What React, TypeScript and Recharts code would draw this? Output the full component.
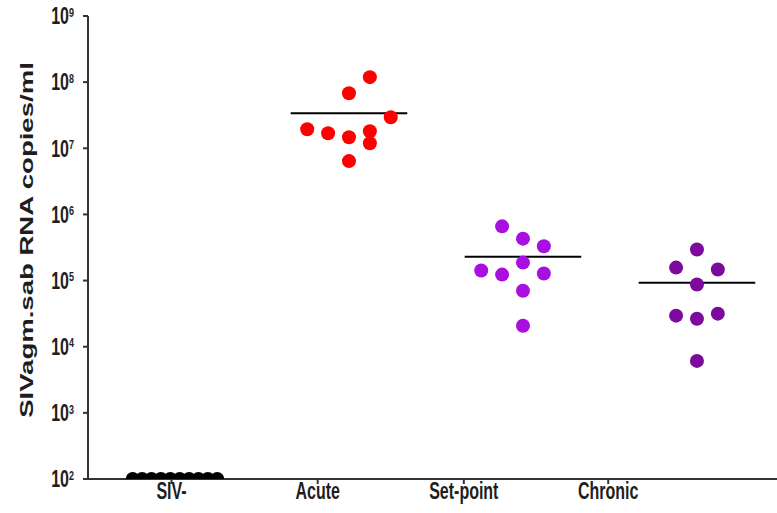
import React from 'react';
import { ScatterChart, Scatter, XAxis, YAxis, ReferenceLine } from 'recharts';

// groups on the x axis
const categories = ['SIV-', 'Acute', 'Set-point', 'Chronic'];
// where the category labels sit (in column units, labels are slightly offset from the dots)
const labelTicks = [-0.02, 0.82, 1.66, 2.49];
const yTicks = [1e2, 1e3, 1e4, 1e5, 1e6, 1e7, 1e8, 1e9];

// viral loads (copies/ml), with the column-scatter slot of each point
const sivNegValues = [100, 100, 100, 100, 100, 100, 100, 100, 100, 100];
const sivNegSlots = [-4.5, -3.5, -2.5, -1.5, -0.5, 0.5, 1.5, 2.5, 3.5, 4.5];

const acuteValues = [1.19e8, 6.8e7, 2.95e7, 1.94e7, 1.69e7, 1.47e7, 1.81e7, 1.19e7, 6.4e6];
const acuteSlots = [1, 0, 2, -2, -1, 0, 1, 1, 0];

const setPointValues = [6.6e5, 4.3e5, 3.3e5, 1.42e5, 1.23e5, 1.87e5, 1.28e5, 7.0e4, 2.08e4];
const setPointSlots = [-1, 0, 1, -2, -1, 0, 1, 0, 0];

const chronicValues = [2.95e5, 1.57e5, 1.47e5, 8.7e4, 2.95e4, 2.65e4, 3.16e4, 6.1e3];
const chronicSlots = [0, -1, 1, 0, -1, 0, 1, 0];

// horizontal line per group
const medians = [null, 3.4e7, 2.3e5, 9.3e4];

const COLORS = ['#000000', '#ff0000', '#a80fe0', '#7c0a9c'];

const SLOT = 0.12; // spread between neighbouring dots
const SLOT_TIGHT = 0.054; // SIV- dots overlap more
const HALF_LINE = 0.335;
const STRETCH = 1.45; // the original text is vertically stretched
const FONT = '"Liberation Sans", Arial, sans-serif';
const INK = '#1e1e1e';

const toPoints = (col: number, values: number[], slots: number[], spread: number) =>
  values.map((v, i) => ({ x: col + slots[i] * spread, y: v }));

const groups = [
  toPoints(0, sivNegValues, sivNegSlots, SLOT_TIGHT),
  toPoints(1, acuteValues, acuteSlots, SLOT),
  toPoints(2, setPointValues, setPointSlots, SLOT),
  toPoints(3, chronicValues, chronicSlots, SLOT),
];

const Dot = (color: string) => (props: any) => (
  <circle cx={props.cx} cy={props.cy} r={7} fill={color} />
);

const YTick = (props: any) => {
  const { x, y, payload } = props;
  const exp = Math.round(Math.log10(payload.value));
  return (
    <g transform={`translate(${x},${y}) scale(1,${STRETCH})`}>
      <text x={0} y={5.7} textAnchor="end" fontFamily={FONT} fontWeight="bold" fontSize={16} fill={INK}>
        <tspan>10</tspan>
        <tspan dy={-5.2} fontSize={9}>{exp}</tspan>
      </text>
    </g>
  );
};

const XTick = (props: any) => {
  const { x, y, payload } = props;
  const idx = labelTicks.indexOf(payload.value);
  return (
    <g transform={`translate(${x},${y + 13}) scale(1,${STRETCH})`}>
      <text x={0} y={0} textAnchor="middle" fontFamily={FONT} fontWeight="bold" fontSize={16} fill={INK}>
        {categories[idx]}
      </text>
    </g>
  );
};

export default function App() {
  return (
    <div style={{ position: 'absolute', left: 0, top: 0, background: '#fff' }}>
      <ScatterChart width={777} height={513} margin={{ top: 16, right: 0, bottom: 0, left: 0 }}>
        <XAxis
          type="number"
          dataKey="x"
          domain={[-0.5, 3.46]}
          ticks={labelTicks}
          interval={0}
          height={34}
          tick={<XTick />}
          tickSize={5}
          tickMargin={2}
          axisLine={{ stroke: '#333', strokeWidth: 2 }}
          tickLine={{ stroke: '#333', strokeWidth: 2 }}
          allowDataOverflow
        />
        <YAxis
          type="number"
          dataKey="y"
          scale="log"
          domain={[1e2, 1e9]}
          ticks={yTicks}
          interval={0}
          width={88}
          tick={<YTick />}
          tickSize={5}
          tickMargin={9}
          axisLine={{ stroke: '#333', strokeWidth: 2 }}
          tickLine={{ stroke: '#333', strokeWidth: 2 }}
          allowDataOverflow
        />
        {medians.map((m, i) =>
          m === null ? null : (
            <ReferenceLine
              key={`med-${i}`}
              segment={[{ x: i - HALF_LINE, y: m }, { x: i + HALF_LINE, y: m }]}
              stroke="#000"
              strokeWidth={2}
              ifOverflow="visible"
            />
          )
        )}
        {groups.map((g, i) => (
          <Scatter
            key={categories[i]}
            name={categories[i]}
            data={g}
            shape={Dot(COLORS[i])}
            isAnimationActive={false}
          />
        ))}
        <g transform={`translate(33,240) scale(1,${STRETCH}) rotate(-90)`}>
          <text x={0} y={0} textAnchor="middle" fontFamily={FONT} fontWeight="bold" fontSize={19} fill={INK}>
            SIVagm.sab RNA copies/ml
          </text>
        </g>
      </ScatterChart>
    </div>
  );
}
